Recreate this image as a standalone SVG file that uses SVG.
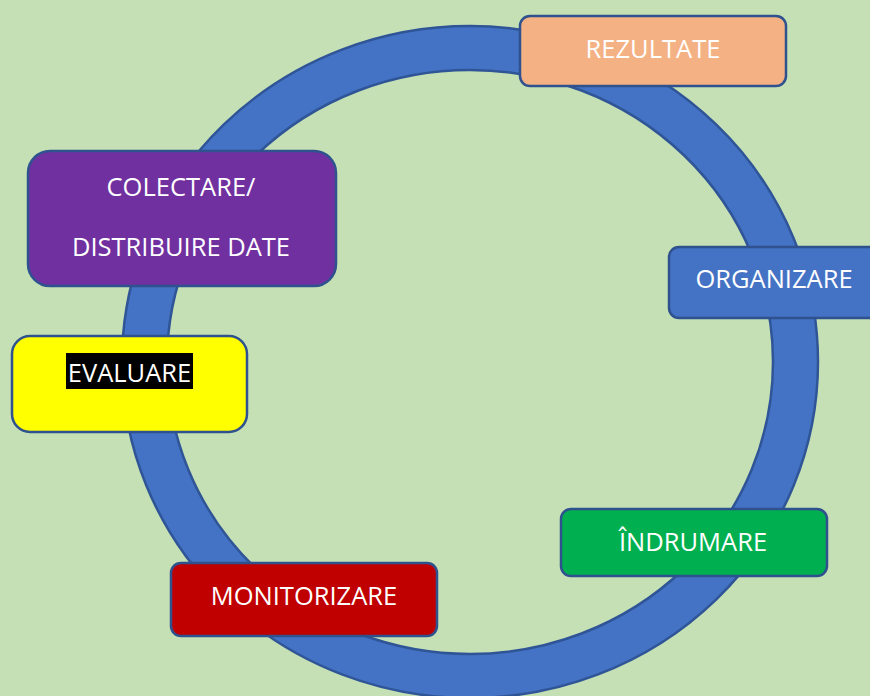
<svg xmlns="http://www.w3.org/2000/svg" width="870" height="696" viewBox="0 0 870 696">
<style>
.box{stroke:#2F528F;stroke-width:2.5}
.t{font-family:"Open Sans","Noto Sans",sans-serif;font-size:25.5px;fill:#FFFFFF;text-anchor:middle}
</style>
<rect x="0" y="0" width="870" height="696" fill="#C5E0B4"/>
<g id="connectors">
<path d="M122,362a348,336 0 1,0 696,0a348,336 0 1,0 -696,0Z M167,362a303,292 0 1,0 606,0a303,292 0 1,0 -606,0Z" fill="#4472C4" fill-rule="evenodd" stroke="#2F5597" stroke-width="2.5"/>
</g>
<g id="rezultate">
<rect class="box" x="520" y="16" width="266" height="70" rx="10" fill="#F4B183"/>
<text class="t" x="653" y="58">REZULTATE</text>
</g>
<g id="organizare">
<rect class="box" x="669" y="247" width="210" height="71" rx="10" fill="#4472C4"/>
<text class="t" x="774" y="288">ORGANIZARE</text>
</g>
<g id="indrumare">
<rect class="box" x="561" y="509" width="266" height="67" rx="10" fill="#00B050"/>
<text class="t" x="693" y="551">ÎNDRUMARE</text>
</g>
<g id="monitorizare">
<rect class="box" x="171" y="563" width="266" height="73" rx="10" fill="#C00000"/>
<text class="t" x="304" y="605">MONITORIZARE</text>
</g>
<g id="evaluare">
<rect class="box" x="12" y="336" width="235" height="96" rx="18" fill="#FFFF00"/>
<rect x="66" y="353" width="127" height="36" fill="#000000"/>
<text class="t" x="129.5" y="382">EVALUARE</text>
</g>
<g id="colectare">
<rect class="box" x="28" y="151" width="308" height="135" rx="22" fill="#7030A0"/>
<text class="t" x="181" y="196">COLECTARE/</text>
<text class="t" x="181" y="256">DISTRIBUIRE DATE</text>
</g>
</svg>
